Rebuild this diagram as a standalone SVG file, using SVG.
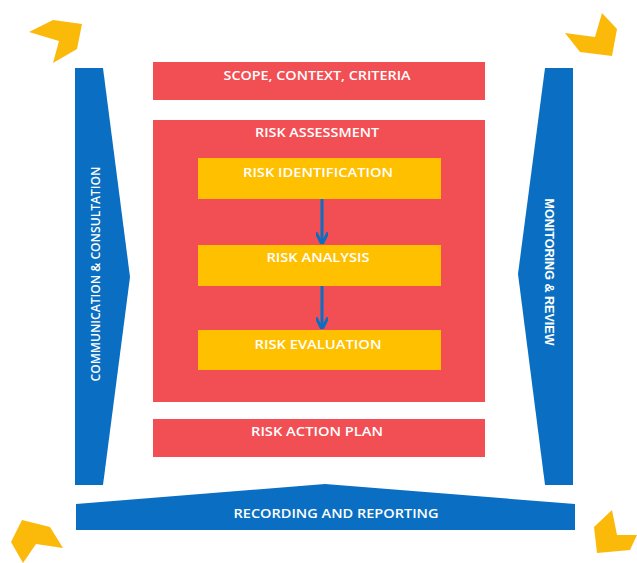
<svg xmlns="http://www.w3.org/2000/svg" width="637" height="563" viewBox="0 0 637 563">
<defs>
<style>
.red{fill:#F24F55}
.yel{fill:#FFC000}
.blue{fill:#0A6FC2}
.chev{fill:#FBB90A}
.t{fill:#FFFFFF;font-family:"Open Sans","Liberation Sans",sans-serif;font-weight:600;font-size:12px;text-anchor:middle}
.t2{fill:#FFFFFF;font-family:"Liberation Sans",Arial,sans-serif;font-weight:700;font-size:12px;text-anchor:middle}
.conn{stroke:#0A6FC2;stroke-width:3;fill:none}
</style>
<marker id="ah" viewBox="0 0 10 10" refX="8" refY="5" markerWidth="4" markerHeight="4" orient="auto" markerUnits="strokeWidth">
<path d="M0,0 L10,5 L0,10" fill="none" stroke="#0A6FC2" stroke-width="2.5"/>
</marker>
</defs>
<rect width="637" height="563" fill="#FFFFFF"/>
<g id="chevrons">
<polygon class="chev" points="29,32 53,20 82,24 77,49 53,63 59,41"/>
<polygon class="chev" points="565,33 595,37 602,13 617,29 612,56 580,52"/>
<polygon class="chev" points="22,520 50,527 63,548 36,544 23,563 11,542"/>
<polygon class="chev" points="612,510 617,535 637,535 630,550 597,553 594,527"/>
</g>
<g id="communication">
<polygon class="blue" points="75,68 103,68 130,277 103,485 75,485"/>
<text class="t" transform="translate(100,274) rotate(-90)" textLength="215" lengthAdjust="spacingAndGlyphs">COMMUNICATION &amp; CONSULTATION</text>
</g>
<g id="monitoring">
<polygon class="blue" points="545,68 573,68 573,485 545,485 518,274"/>
<text class="t2" transform="translate(545,272) rotate(90)" textLength="147" lengthAdjust="spacingAndGlyphs">MONITORING &amp; REVIEW</text>
</g>
<g id="recording">
<polygon class="blue" points="76,504 325,484 575,504 575,530 76,530"/>
<text class="t" x="336" y="518" textLength="205" lengthAdjust="spacingAndGlyphs">RECORDING AND REPORTING</text>
</g>
<g id="scope">
<rect class="red" x="153" y="62" width="332" height="38"/>
<text class="t" x="317" y="80" textLength="187" lengthAdjust="spacingAndGlyphs">SCOPE, CONTEXT, CRITERIA</text>
</g>
<g id="assessment">
<rect class="red" x="153" y="120" width="332" height="282"/>
<text class="t" x="317" y="137" textLength="124" lengthAdjust="spacingAndGlyphs">RISK ASSESSMENT</text>
</g>
<g id="identification">
<rect class="yel" x="198" y="158" width="243" height="41"/>
<text class="t" x="318" y="177" textLength="150" lengthAdjust="spacingAndGlyphs">RISK IDENTIFICATION</text>
</g>
<g id="analysis">
<rect class="yel" x="198" y="245" width="243" height="41"/>
<text class="t" x="318" y="262" textLength="103" lengthAdjust="spacingAndGlyphs">RISK ANALYSIS</text>
</g>
<g id="evaluation">
<rect class="yel" x="198" y="330" width="243" height="40"/>
<text class="t" x="318" y="349" textLength="127" lengthAdjust="spacingAndGlyphs">RISK EVALUATION</text>
</g>
<g id="actionplan">
<rect class="red" x="153" y="419" width="332" height="38"/>
<text class="t" x="317" y="436" textLength="132" lengthAdjust="spacingAndGlyphs">RISK ACTION PLAN</text>
</g>
<g id="connectors">
<line class="conn" x1="322" y1="199" x2="322" y2="242" marker-end="url(#ah)"/>
<line class="conn" x1="322" y1="286" x2="322" y2="327" marker-end="url(#ah)"/>
</g>
</svg>
